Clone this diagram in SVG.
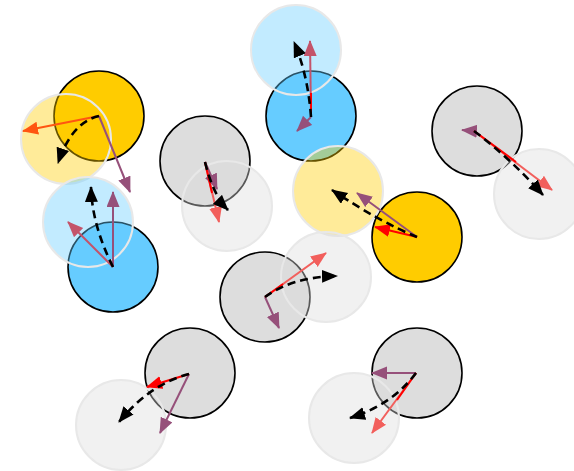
<svg xmlns="http://www.w3.org/2000/svg" width="574" height="471" viewBox="0 0 574 471">
<style>
.body{stroke:#000;stroke-width:1.6}
.ghost{fill-opacity:0.4;stroke:#e8e8e8;stroke-width:2}
.gold{fill:#ffcc00}
.blue{fill:#66ccff}
.gray{fill:#dddddd}
.a{fill:none;stroke-width:2}
.blk{stroke:#000;stroke-width:2.6;stroke-dasharray:8 5;fill:none}
.pur{stroke:#96507a}
.sal{stroke:#f25f5c}
.pnk{stroke:#c4536a}
.org{stroke:#ff5511}
.red{stroke:#ff0000}
</style>
<defs>
<marker id="mBlk" markerUnits="userSpaceOnUse" markerWidth="18" markerHeight="15" refX="15" refY="6.5" orient="auto"><path d="M0,0 L16,6.5 L0,13 z" fill="#000"/></marker>
<marker id="mPur" markerUnits="userSpaceOnUse" markerWidth="18" markerHeight="15" refX="15" refY="6.5" orient="auto"><path d="M0,0 L16,6.5 L0,13 z" fill="#96507a"/></marker>
<marker id="mSal" markerUnits="userSpaceOnUse" markerWidth="18" markerHeight="15" refX="15" refY="6.5" orient="auto"><path d="M0,0 L16,6.5 L0,13 z" fill="#f25f5c"/></marker>
<marker id="mPnk" markerUnits="userSpaceOnUse" markerWidth="18" markerHeight="15" refX="15" refY="6.5" orient="auto"><path d="M0,0 L16,6.5 L0,13 z" fill="#c4536a"/></marker>
<marker id="mOrg" markerUnits="userSpaceOnUse" markerWidth="18" markerHeight="15" refX="15" refY="6.5" orient="auto"><path d="M0,0 L16,6.5 L0,13 z" fill="#ff5511"/></marker>
<marker id="mRed" markerUnits="userSpaceOnUse" markerWidth="18" markerHeight="15" refX="15" refY="6.5" orient="auto"><path d="M0,0 L16,6.5 L0,13 z" fill="#ff0000"/></marker>
</defs>
<g id="bodies">
<g id="b1"><circle class="body gold" cx="99" cy="116" r="45"/></g>
<g id="b2"><circle class="body blue" cx="113" cy="267" r="45"/></g>
<g id="b3"><circle class="body gray" cx="205" cy="161" r="45"/></g>
<g id="b4"><circle class="body blue" cx="311" cy="116" r="45"/></g>
<g id="b5"><circle class="body gold" cx="417" cy="237" r="45"/></g>
<g id="b6"><circle class="body gray" cx="477" cy="131" r="45"/></g>
<g id="b7"><circle class="body gray" cx="265" cy="297" r="45"/></g>
<g id="b8"><circle class="body gray" cx="190" cy="373" r="45"/></g>
<g id="b9"><circle class="body gray" cx="417" cy="373" r="45"/></g>
</g>
<g id="ghosts">
<g id="g1"><circle class="ghost gold" cx="66" cy="139" r="45"/></g>
<g id="g2"><circle class="ghost blue" cx="88" cy="222" r="45"/></g>
<g id="g3"><circle class="ghost gray" cx="227" cy="206" r="45"/></g>
<g id="g4"><circle class="ghost blue" cx="296" cy="50" r="45"/></g>
<g id="g5"><circle class="ghost gold" cx="338" cy="191" r="45"/></g>
<g id="g6"><circle class="ghost gray" cx="539" cy="194" r="45"/></g>
<g id="g7"><circle class="ghost gray" cx="326" cy="277" r="45"/></g>
<g id="g8"><circle class="ghost gray" cx="121" cy="425" r="45"/></g>
<g id="g9"><circle class="ghost gray" cx="354" cy="418" r="45"/></g>
</g>
<g id="connectors">
<line class="a org" x1="99" y1="116" x2="23" y2="131" marker-end="url(#mOrg)"/>
<line class="a pur" x1="99" y1="116" x2="130" y2="192" marker-end="url(#mPur)"/>
<path class="blk" d="M99,116 Q72,122 58,163" marker-end="url(#mBlk)"/>
<line class="a pnk" x1="113" y1="267" x2="68" y2="222" marker-end="url(#mPnk)"/>
<line class="a pur" x1="113" y1="267" x2="113" y2="192" marker-end="url(#mPur)"/>
<path class="blk" d="M113,267 Q92,225 91,187" marker-end="url(#mBlk)"/>
<line class="a sal" x1="205" y1="162" x2="219" y2="222" marker-end="url(#mSal)"/>
<line class="a pur" x1="205" y1="162" x2="217" y2="189" marker-end="url(#mPur)"/>
<line class="a red" x1="205" y1="162" x2="212" y2="193"/>
<path class="blk" d="M205,162 Q213,195 228,210" marker-end="url(#mBlk)"/>
<line class="a pnk" x1="311" y1="117" x2="310" y2="41" marker-end="url(#mPnk)"/>
<line class="a red" x1="311" y1="117" x2="311" y2="93"/>
<line class="a pur" x1="311" y1="117" x2="297" y2="131" marker-end="url(#mPur)"/>
<path class="blk" d="M311,117 Q308,75 294,42" marker-end="url(#mBlk)"/>
<line class="a pur" x1="417" y1="237" x2="357" y2="193" marker-end="url(#mPur)"/>
<line class="a red" x1="417" y1="237" x2="375" y2="227" marker-end="url(#mRed)"/>
<path class="blk" d="M417,237 Q380,222 332,190" marker-end="url(#mBlk)"/>
<line class="a sal" x1="474" y1="131" x2="552" y2="190" marker-end="url(#mSal)"/>
<line class="a pur" x1="474" y1="131" x2="462" y2="130" marker-end="url(#mPur)"/>
<line class="a red" x1="474" y1="131" x2="516" y2="162"/>
<path class="blk" d="M474,131 Q510,158 543,195" marker-end="url(#mBlk)"/>
<line class="a sal" x1="265" y1="297" x2="326" y2="253" marker-end="url(#mSal)"/>
<line class="a pur" x1="265" y1="297" x2="279" y2="328" marker-end="url(#mPur)"/>
<line class="a red" x1="265" y1="297" x2="283" y2="284"/>
<path class="blk" d="M265,297 Q292,277 337,276" marker-end="url(#mBlk)"/>
<line class="a pur" x1="189" y1="374" x2="160" y2="433" marker-end="url(#mPur)"/>
<line class="a red" x1="189" y1="374" x2="147" y2="387" marker-end="url(#mRed)"/>
<path class="blk" d="M189,374 Q150,384 119,422" marker-end="url(#mBlk)"/>
<line class="a sal" x1="416" y1="373" x2="372" y2="433" marker-end="url(#mSal)"/>
<line class="a pur" x1="416" y1="373" x2="372" y2="373" marker-end="url(#mPur)"/>
<line class="a red" x1="416" y1="373" x2="397" y2="400"/>
<path class="blk" d="M416,373 Q392,405 350,418" marker-end="url(#mBlk)"/>
</g>
</svg>
